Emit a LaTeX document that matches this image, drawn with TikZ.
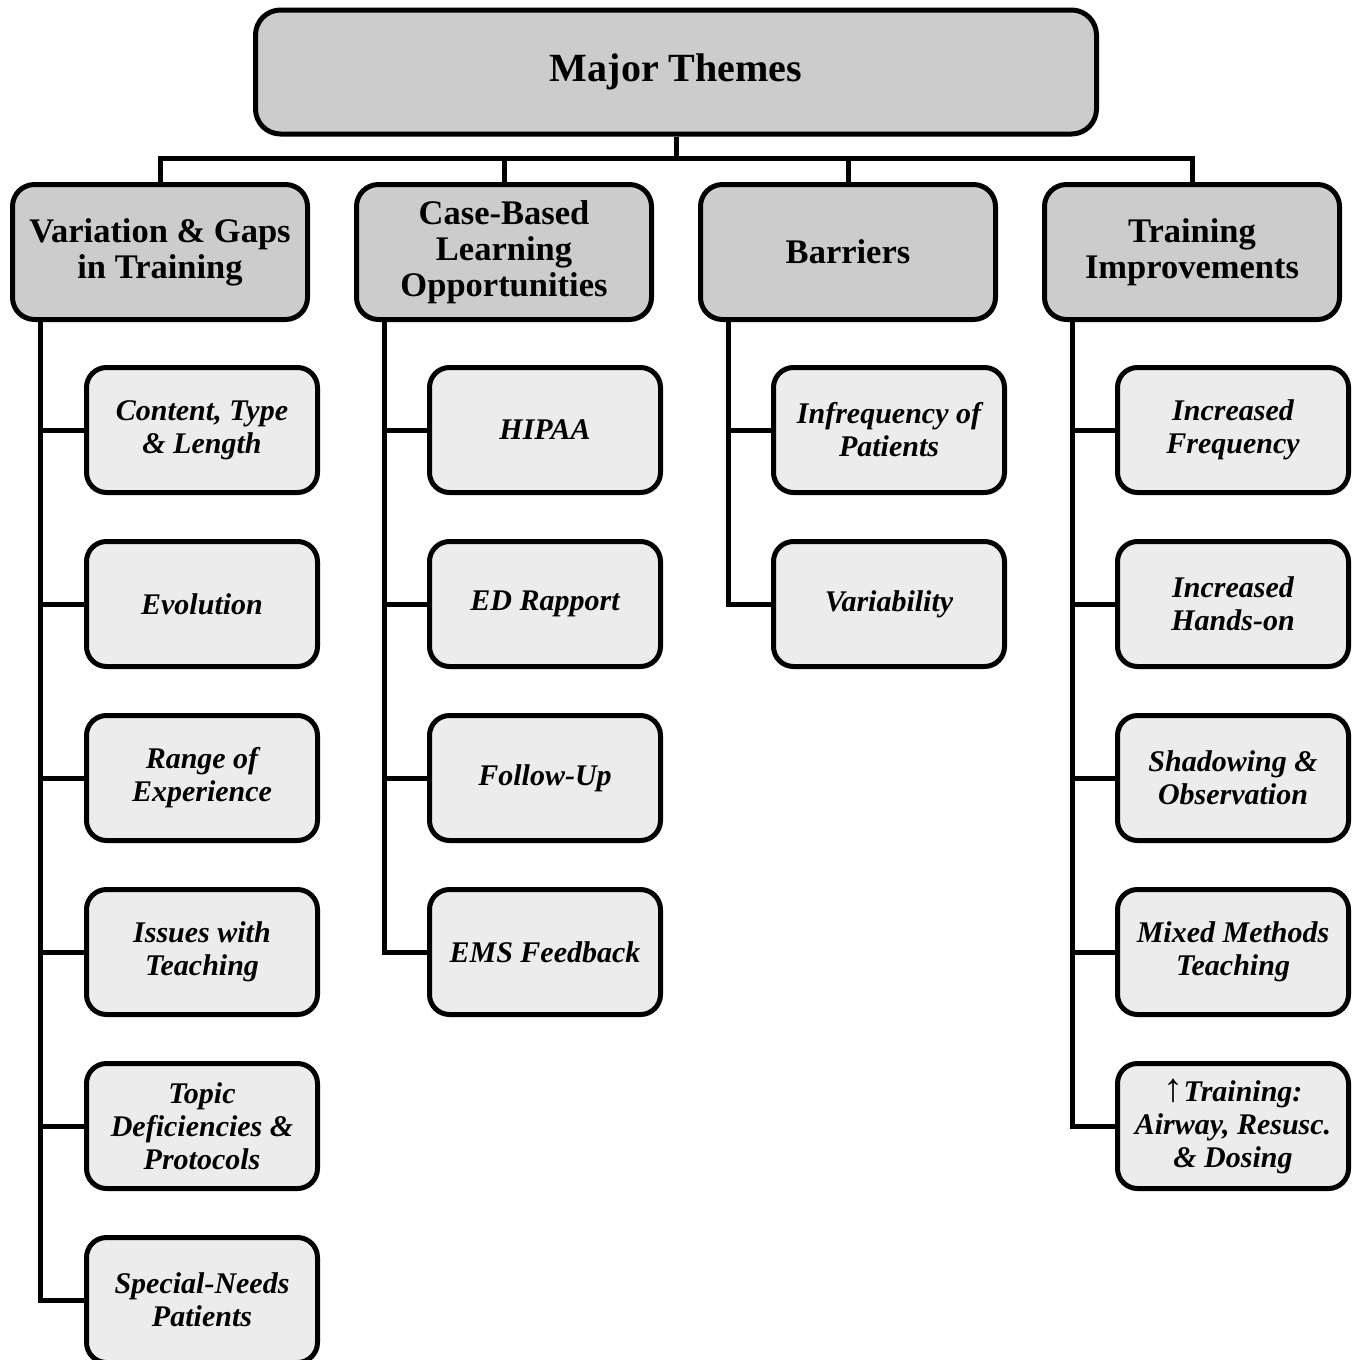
\documentclass[tikz,border=0pt]{standalone}
\usepackage{fontspec}
\setmainfont{Liberation Serif}
\usetikzlibrary{positioning}

\begin{document}
\begin{tikzpicture}[x=1pt,y=-1pt,line width=5pt,
    top/.style={draw=black,fill=gray!40,rounded corners=25pt,
        minimum width=841pt,minimum height=124pt,align=center,
        font=\fontsize{40}{42}\selectfont\bfseries},
    theme/.style={draw=black,fill=gray!40,rounded corners=22pt,
        minimum width=295pt,minimum height=135pt,align=center,inner sep=4pt,
        font=\fontsize{34.5}{36}\selectfont\bfseries},
    sub/.style={draw=black,fill=gray!15,rounded corners=20pt,
        minimum width=231pt,minimum height=125pt,align=center,inner sep=4pt,
        font=\fontsize{30}{33}\selectfont\bfseries\itshape},
    link/.style={draw=black,line width=5pt}]
    \useasboundingbox (0,0) rectangle (1356,1360);
    % Add the themes
    \node[top] (major) at (676,72) {Major Themes};
    \node[theme] (var) at (160,252) {Variation \& Gaps\\in Training};
    \node[theme] (case) at (504,252) {Case-Based\\Learning\\Opportunities};
    \node[theme] (barr) at (848,252) {Barriers};
    \node[theme] (impr) at (1192,252) {Training\\Improvements};
    % Sub-themes, first column
    \node[sub,
        below=43pt of var,
        xshift=42pt
        ] (var1) {Content, Type\\\& Length};
    \node[sub,
        below=44pt of var1
        ] (var2) {Evolution};
    \node[sub,
        below=44pt of var2
        ] (var3) {Range of\\Experience};
    \node[sub,
        below=44pt of var3
        ] (var4) {Issues with\\Teaching};
    \node[sub,
        below=44pt of var4
        ] (var5) {Topic\\Deficiencies \&\\Protocols};
    \node[sub,
        below=44pt of var5
        ] (var6) {Special-Needs\\Patients};
    % second column
    \node[sub,
        below=43pt of case,
        xshift=41pt
        ] (case1) {HIPAA};
    \node[sub,
        below=44pt of case1
        ] (case2) {ED Rapport};
    \node[sub,
        below=44pt of case2
        ] (case3) {Follow-Up};
    \node[sub,
        below=44pt of case3
        ] (case4) {EMS Feedback};
    % third column
    \node[sub,
        below=43pt of barr,
        xshift=41pt
        ] (barr1) {Infrequency of\\Patients};
    \node[sub,
        below=44pt of barr1
        ] (barr2) {Variability};
    % fourth column
    \node[sub,
        below=43pt of impr,
        xshift=41pt
        ] (impr1) {Increased\\Frequency};
    \node[sub,
        below=44pt of impr1
        ] (impr2) {Increased\\Hands-on};
    \node[sub,
        below=44pt of impr2
        ] (impr3) {Shadowing \&\\Observation};
    \node[sub,
        below=44pt of impr3
        ] (impr4) {Mixed Methods\\Teaching};
    \node[sub,
        below=44pt of impr4
        ] (impr5) {{\fontsize{40}{33}\selectfont↑}Training:\\Airway, Resusc.\\\& Dosing};

    % Connectors from the top box
    \coordinate (bar) at (676,158);
    \draw[link] (major.south) -- (bar);
    \draw[link] (bar) -| (var.north);
    \draw[link] (bar) -| (case.north);
    \draw[link] (bar) -| (barr.north);
    \draw[link] (bar) -| (impr.north);

    % Spines to the sub-themes
    \coordinate (vs) at ([xshift=30pt]var.south west);
    \coordinate (cs) at ([xshift=30pt]case.south west);
    \coordinate (bs) at ([xshift=30pt]barr.south west);
    \coordinate (is) at ([xshift=30pt]impr.south west);
    \draw[link] (vs) |- (var1.west);
    \draw[link] (vs) |- (var2.west);
    \draw[link] (vs) |- (var3.west);
    \draw[link] (vs) |- (var4.west);
    \draw[link] (vs) |- (var5.west);
    \draw[link] (vs) |- (var6.west);
    \draw[link] (cs) |- (case1.west);
    \draw[link] (cs) |- (case2.west);
    \draw[link] (cs) |- (case3.west);
    \draw[link] (cs) |- (case4.west);
    \draw[link] (bs) |- (barr1.west);
    \draw[link] (bs) |- (barr2.west);
    \draw[link] (is) |- (impr1.west);
    \draw[link] (is) |- (impr2.west);
    \draw[link] (is) |- (impr3.west);
    \draw[link] (is) |- (impr4.west);
    \draw[link] (is) |- (impr5.west);
\end{tikzpicture}
\end{document}
